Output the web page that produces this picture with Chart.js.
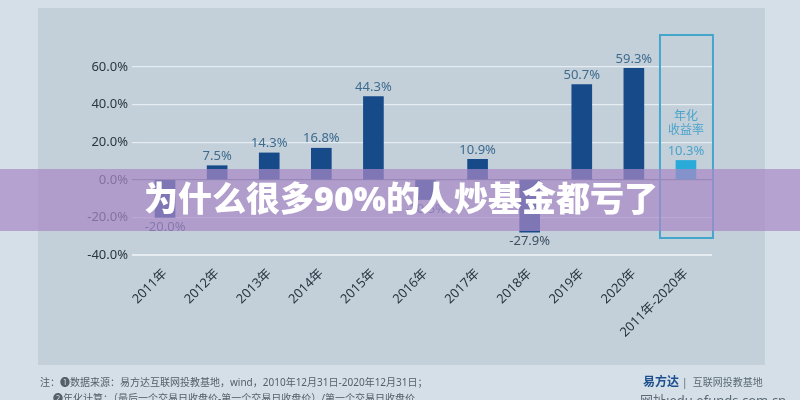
<!DOCTYPE html>
<html>
<head>
<meta charset="utf-8">
<script src="https://cdn.jsdelivr.net/npm/chart.js@4/dist/chart.umd.min.js"></script>
<style>
  html, body { margin: 0; padding: 0; background: #d4dfe7; overflow: hidden; }
  canvas { display: block; }
</style>
</head>
<body>
<canvas id="myChart" width="800" height="400"></canvas>
<script>
var years = ['2011年', '2012年', '2013年', '2014年', '2015年', '2016年', '2017年', '2018年', '2019年', '2020年', '2011年-2020年'];
var returns = [-20.0, 7.5, 14.3, 16.8, 44.3, -10.5, 10.9, -27.9, 50.7, 59.3, 10.3];
var yTicks = [-40, -20, 0, 20, 40, 60];
var barColors = ['#174a89', '#174a89', '#174a89', '#174a89', '#174a89', '#174a89', '#174a89', '#174a89', '#174a89', '#174a89', '#2aaad9'];
var labelColors = ['#2f4f6a', '#3d6b8e', '#3d6b8e', '#3d6b8e', '#3d6b8e', '#3d6b8e', '#3d6b8e', '#3d4f60', '#3d6b8e', '#3d6b8e', '#4aa3c9'];
var title = '为什么很多90%的人炒基金都亏了';
var noteLines = ['注：❶数据来源：易方达互联网投教基地，wind，2010年12月31日-2020年12月31日；',
                 '     ❷年化计算：（最后一个交易日收盘价-第一个交易日收盘价）/第一个交易日收盘价'];

var font = "'Noto Sans', 'Noto Sans CJK SC', sans-serif";

var decor = {
    id: 'decor',
    beforeDraw: function (chart) {
        var c = chart.ctx;
        c.save();
        c.fillStyle = '#d4dfe7';
        c.fillRect(0, 0, 800, 400);
        c.fillStyle = '#c3d0da';
        c.fillRect(38, 8, 727, 357);
        c.restore();
    },
    afterDatasetsDraw: function (chart) {
        var c = chart.ctx;
        var meta = chart.getDatasetMeta(0);
        var x = chart.scales.x;
        c.save();
        c.font = '13px ' + font;
        c.textAlign = 'center';
        meta.data.forEach(function (bar, i) {
            var v = returns[i];
            c.fillStyle = labelColors[i];
            if (v >= 0) {
                c.textBaseline = 'bottom';
                c.fillText(v.toFixed(1) + '%', bar.x, bar.y - 3);
            } else {
                c.textBaseline = 'top';
                c.fillText(v.toFixed(1) + '%', bar.x, bar.y + 3);
            }
        });
        // highlight box for the annualised column
        var cx = x.getPixelForValue(10);
        c.strokeStyle = '#45a6cc';
        c.lineWidth = 2;
        c.strokeRect(cx - 26, 35, 53, 203);
        c.fillStyle = '#4aa3c9';
        c.font = '12px ' + font;
        c.textBaseline = 'middle';
        c.fillText('年化', cx, 117);
        c.fillText('收益率', cx, 131);
        // footer notes
        c.textAlign = 'left';
        c.textBaseline = 'middle';
        c.font = '10px ' + font;
        c.fillStyle = '#55606a';
        c.fillText(noteLines[0], 40, 383);
        c.fillText(noteLines[1], 40, 399);
        c.font = 'bold 12px ' + font;
        c.fillStyle = '#1d4f8e';
        c.fillText('易方达', 643, 383);
        c.font = '10px ' + font;
        c.fillStyle = '#5c6a76';
        c.fillText('|  互联网投教基地', 682, 383);
        c.font = '13px ' + font;
        c.fillText('网址:edu.efunds.com.cn', 640, 401);
        c.restore();
    },
    afterDraw: function (chart) {
        var c = chart.ctx;
        c.save();
        c.fillStyle = 'rgba(169, 136, 199, 0.71)';
        c.fillRect(0, 169, 800, 62);
        c.fillStyle = '#ffffff';
        c.font = '900 34px ' + font;
        c.textAlign = 'center';
        c.textBaseline = 'middle';
        c.fillText(title, 401, 201);
        c.restore();
    }
};

var ctx = document.getElementById('myChart').getContext('2d');
var myChart = new Chart(ctx, {
    type: 'bar',
    data: {
        labels: years,
        datasets: [{
            data: returns,
            backgroundColor: barColors,
            barThickness: 20
        }]
    },
    options: {
        responsive: false,
        animation: false,
        devicePixelRatio: 1,
        layout: { padding: { top: 67, right: 88, bottom: 0, left: 0 } },
        plugins: { legend: { display: false }, tooltip: { enabled: false } },
        scales: {
            x: {
                grid: { display: false },
                border: { display: false },
                ticks: {
                    color: '#2b3540',
                    font: { size: 13, family: font },
                    maxRotation: 45,
                    minRotation: 45,
                    autoSkip: false
                },
                afterFit: function (scale) { scale.height = 145; }
            },
            y: {
                min: -40,
                max: 60,
                afterBuildTicks: function (scale) {
                    scale.ticks = yTicks.map(function (v) { return { value: v }; });
                },
                grid: {
                    color: function (c) { return c.tick.value === 0 ? '#6f8294' : 'rgba(235,242,247,0.85)'; },
                    lineWidth: function (c) { return c.tick.value === -40 ? 2 : 1.2; },
                    tickLength: 7,
                    drawTicks: true
                },
                border: { display: false },
                ticks: {
                    color: '#2b3540',
                    font: { size: 13, family: font },
                    padding: 4,
                    callback: function (v) { return v.toFixed(1) + '%'; }
                },
                afterFit: function (scale) { scale.width = 139; }
            }
        }
    },
    plugins: [decor]
});
</script>
</body>
</html>
